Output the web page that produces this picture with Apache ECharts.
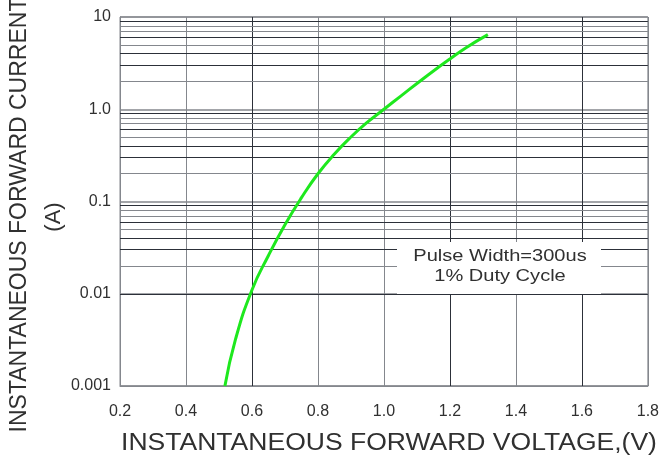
<!DOCTYPE html>
<html>
<head>
<meta charset="utf-8">
<script src="https://cdn.jsdelivr.net/npm/echarts@6/dist/echarts.min.js"></script>
<style>
html,body{margin:0;padding:0;background:#fff;}
#chart{width:662px;height:459px;}
</style>
</head>
<body>
<div id="chart"></div>
<script>
// ---- data ----
const voltage = [0.518, 0.55, 0.6, 0.65, 0.7, 0.75, 0.8, 0.85, 0.9, 0.95, 1.0, 1.05, 1.1, 1.15, 1.2, 1.25, 1.315];
const current = [0.001, 0.0032, 0.011, 0.026, 0.056, 0.11, 0.2, 0.327, 0.5, 0.724, 1.0, 1.38, 1.9, 2.6, 3.51, 4.68, 6.45];
const yTickValues = [0.001, 0.01, 0.1, 1, 10];
const yTickLabels = ['0.001', '0.01', '0.1', '1.0', '10'];
const xTickLabels = ['0.2', '0.4', '0.6', '0.8', '1.0', '1.2', '1.4', '1.6', '1.8'];
const decades = [0.001, 0.01, 0.1, 1];
const minorMultipliers = [2, 3, 4, 5, 6, 7, 8, 9];
const xTitle = 'INSTANTANEOUS FORWARD VOLTAGE,(V)';
const yTitle = 'INSTANTANEOUS FORWARD CURRENT';
const yUnit = '(A)';
const noteLines = ['Pulse Width=300us', '1% Duty Cycle'];

// ---- styling ----
const DARK = '#2c3039';
const GRAY = '#84878d';
const TEXT = '#303030';
const FONT = '"Liberation Sans", Arial, sans-serif';
const minorColor = {9: DARK, 8: GRAY, 7: GRAY, 6: DARK, 5: GRAY, 4: DARK, 3: DARK, 2: GRAY};

const points = voltage.map((v, i) => [v, current[i]]);

const minorLines = [];
decades.forEach(d => {
  minorMultipliers.forEach(m => {
    minorLines.push({
      yAxis: d * m,
      lineStyle: {color: minorColor[m], width: 1, type: 'solid'}
    });
  });
});

const chart = echarts.init(document.getElementById('chart'), null, {renderer: 'canvas'});
chart.setOption({
  animation: false,
  backgroundColor: '#ffffff',
  grid: {left: 120, top: 17, width: 530, height: 369, show: true, borderColor: GRAY, borderWidth: 1, backgroundColor: 'transparent'},
  xAxis: {
    type: 'value', min: 0.2, max: 1.8, interval: 0.2,
    axisLine: {show: true, lineStyle: {color: GRAY, width: 1}},
    axisTick: {show: false},
    axisLabel: {
      margin: 18, color: TEXT, fontSize: 16, fontFamily: FONT,
      formatter: v => {
        const idx = Math.round((v - 0.2) / 0.2);
        return xTickLabels[idx] !== undefined ? xTickLabels[idx] : '';
      }
    },
    splitLine: {show: true, lineStyle: {color: [GRAY, GRAY, DARK, GRAY, GRAY, DARK, GRAY, DARK, GRAY], width: 1}}
  },
  yAxis: {
    type: 'log', logBase: 10, min: 0.001, max: 10,
    axisLine: {show: true, lineStyle: {color: GRAY, width: 1}},
    axisTick: {show: false},
    axisLabel: {
      margin: 9, color: TEXT, fontSize: 16, fontFamily: FONT,
      formatter: v => {
        let best = -1, bd = 1e9;
        yTickValues.forEach((t, i) => {
          const d = Math.abs(Math.log10(t) - Math.log10(v));
          if (d < bd) { bd = d; best = i; }
        });
        return bd < 0.01 ? yTickLabels[best] : '';
      }
    },
    splitLine: {show: true, lineStyle: {color: GRAY, width: 1.5}}
  },
  series: [
    {
      type: 'line', data: [], z: 1, silent: true,
      markLine: {silent: true, symbol: 'none', label: {show: false}, animation: false, data: minorLines}
    },
    {
      type: 'line', data: points, z: 5, smooth: 0.5, showSymbol: false, symbol: 'none',
      lineStyle: {color: '#1ee81e', width: 3}
    }
  ],
  graphic: [
    {
      type: 'rect', left: 397, top: 242, z: 10,
      shape: {width: 204, height: 52},
      style: {fill: '#ffffff'}
    },
    {
      type: 'text', x: 500, y: 256, scaleX: 1.18, z: 11,
      style: {text: noteLines[0], x: 0, y: 0, textAlign: 'center', textVerticalAlign: 'middle', fontSize: 17, fontFamily: FONT, fill: TEXT}
    },
    {
      type: 'text', x: 500, y: 276, scaleX: 1.18, z: 11,
      style: {text: noteLines[1], x: 0, y: 0, textAlign: 'center', textVerticalAlign: 'middle', fontSize: 17, fontFamily: FONT, fill: TEXT}
    },
    {
      type: 'text', x: 389, y: 444, scaleX: 1.153, z: 11,
      style: {text: xTitle, x: 0, y: 0, textAlign: 'center', textVerticalAlign: 'middle', fontSize: 23, fontFamily: FONT, fill: TEXT}
    },
    {
      type: 'text', x: 20, y: 215, rotation: Math.PI / 2, z: 11,
      style: {text: yTitle, x: 0, y: 0, textAlign: 'center', textVerticalAlign: 'middle', fontSize: 23, fontFamily: FONT, fill: TEXT}
    },
    {
      type: 'text', x: 54, y: 217, rotation: Math.PI / 2, z: 11,
      style: {text: yUnit, x: 0, y: 0, textAlign: 'center', textVerticalAlign: 'middle', fontSize: 22, fontFamily: FONT, fill: TEXT}
    }
  ]
});
</script>
</body>
</html>
